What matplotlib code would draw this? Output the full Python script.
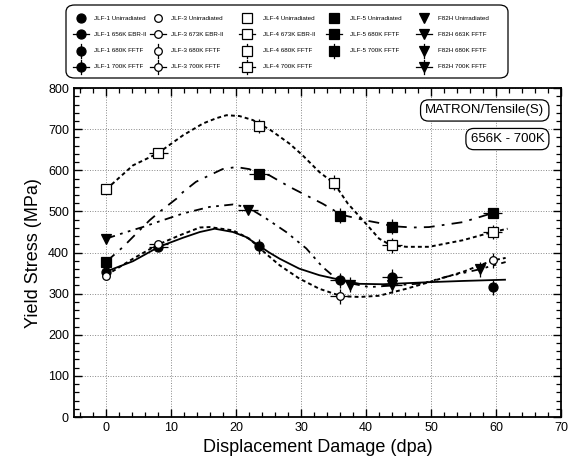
import matplotlib
matplotlib.use('Agg')
import matplotlib.pyplot as plt
from matplotlib.lines import Line2D
from matplotlib.patches import FancyBboxPatch

plt.rcParams['font.family'] = ['Liberation Sans', 'DejaVu Sans']

# measured points: (dpa, yield stress)
jlf1_unirr = ([0], [353])
jlf1_656_ebr = ([8], [413])
jlf1_680_fftf = ([23.5, 59.5], [415, 316])
jlf1_700_fftf = ([36, 44], [333, 341])

jlf3_unirr = ([0], [343])
jlf3_673_ebr = ([8], [421])
jlf3_680_fftf = ([59.5], [381])
jlf3_700_fftf = ([36], [294])

jlf4_unirr = ([0], [555])
jlf4_673_ebr = ([8], [641])
jlf4_680_fftf = ([23.5, 35], [708, 570])
jlf4_700_fftf = ([44, 59.5], [418, 450])

jlf5_unirr = ([0], [376])
jlf5_680_fftf = ([23.5, 59.5], [590, 497])
jlf5_700_fftf = ([36, 44], [490, 463])

f82h_unirr = ([0], [432])
f82h_663_fftf = ([21.8], [504])
f82h_680_fftf = ([37.5, 57.5], [322, 359])
f82h_700_fftf = ([44], [320])

# fitted trend curves
jlf1_fit_x = [0, 4.1, 8.1, 11.8, 14.4, 16.7, 19.5, 21.5, 23.5, 25.1, 26.7, 29.7, 32.8, 36.2, 39, 42.6, 49.7, 54.9, 61.4]
jlf1_fit_y = [354, 379, 414, 436, 450, 458, 450, 438, 417, 400, 385, 361, 345, 333, 324, 323, 328, 331, 334]

jlf3_fit_x = [0, 4.1, 7.9, 11.3, 14.4, 15.9, 19.5, 22, 24.6, 26.7, 29.7, 32.8, 36.2, 39, 42, 46.2, 49.7, 54.9, 59.5, 61.5]
jlf3_fit_y = [345, 385, 419, 442, 461, 462, 454, 434, 397, 369, 337, 312, 294, 292, 295, 312, 328, 353, 381, 387]

jlf4_fit_x = [0, 4.1, 7.9, 11.8, 14.9, 17, 18.5, 20.5, 22.6, 23.6, 25.1, 28.2, 30.2, 32.8, 35.1, 37.2, 40, 42, 43.8, 46.2, 49.7, 54.9, 59.5, 61.8]
jlf4_fit_y = [554, 612, 641, 685, 714, 727, 734, 732, 722, 712, 700, 665, 637, 596, 568, 519, 470, 434, 418, 414, 414, 430, 450, 458]

jlf5_fit_x = [0, 2.6, 4.1, 6.7, 8.2, 10.8, 11.8, 13.8, 15.9, 17.9, 20, 22, 23.6, 25.1, 28.2, 30.8, 33.3, 36.2, 40, 42, 44.1, 47.2, 49.7, 54.9, 59.5, 60.5]
jlf5_fit_y = [378, 414, 438, 479, 499, 531, 547, 572, 588, 603, 608, 603, 592, 588, 560, 539, 519, 492, 478, 472, 464, 461, 462, 474, 496, 499]

f82h_fit_x = [0, 3.1, 5.6, 8.2, 11.8, 15.9, 19.5, 21.8, 24.6, 27.7, 30.8, 33.3, 35.4, 37.7, 40.5, 44.1, 48.7, 52.3, 57.4, 61.5]
f82h_fit_y = [434, 450, 462, 476, 495, 511, 517, 510, 483, 450, 410, 365, 337, 325, 316, 320, 325, 341, 359, 377]

XERR = 1.5
YERR = 18

W, H = 577, 466
fig = plt.figure(figsize=(W / 100, H / 100), dpi=100)
ax = fig.add_axes([0.128, 0.105, 0.844, 0.706])

ax.plot(jlf1_fit_x, jlf1_fit_y, color='black', lw=1.3, linestyle='-')
ax.plot(jlf3_fit_x, jlf3_fit_y, color='black', lw=1.4, linestyle=(0, (2, 1.6)))
ax.plot(jlf4_fit_x, jlf4_fit_y, color='black', lw=1.4, linestyle=(0, (2, 1.6)))
ax.plot(jlf5_fit_x, jlf5_fit_y, color='black', lw=1.3, linestyle=(0, (6, 4, 1.5, 4)))
ax.plot(f82h_fit_x, f82h_fit_y, color='black', lw=1.3, linestyle=(0, (5, 3, 1.5, 3, 1.5, 3)))

legend_cols = [[], [], [], [], []]


def series(col, data, marker, filled, bars, label, ms=6.5):
    x, y = data
    xe = XERR if 'x' in bars else None
    ye = YERR if 'y' in bars else None
    ax.errorbar(x, y, xerr=xe, yerr=ye, fmt=marker, color='black',
                mfc='black' if filled else 'white', mec='black', ms=ms,
                mew=0.9, elinewidth=0.9, capsize=0, zorder=5)
    legend_cols[col].append((label, marker, filled, bars, ms))


series(0, jlf1_unirr, 'o', True, '', 'JLF-1 Unirradiated')
series(0, jlf1_656_ebr, 'o', True, 'x', 'JLF-1 656K EBR-II')
series(0, jlf1_680_fftf, 'o', True, 'y', 'JLF-1 680K FFTF')
series(0, jlf1_700_fftf, 'o', True, 'xy', 'JLF-1 700K FFTF')

series(1, jlf3_unirr, 'o', False, '', 'JLF-3 Unirradiated', 5.5)
series(1, jlf3_673_ebr, 'o', False, 'x', 'JLF-3 673K EBR-II', 5.5)
series(1, jlf3_680_fftf, 'o', False, 'y', 'JLF-3 680K FFTF', 5.5)
series(1, jlf3_700_fftf, 'o', False, 'xy', 'JLF-3 700K FFTF', 5.5)

series(2, jlf4_unirr, 's', False, '', 'JLF-4 Unirradiated')
series(2, jlf4_673_ebr, 's', False, 'x', 'JLF-4 673K EBR-II')
series(2, jlf4_680_fftf, 's', False, 'y', 'JLF-4 680K FFTF')
series(2, jlf4_700_fftf, 's', False, 'xy', 'JLF-4 700K FFTF')

series(3, jlf5_unirr, 's', True, '', 'JLF-5 Unirradiated')
series(3, jlf5_680_fftf, 's', True, 'x', 'JLF-5 680K FFTF')
series(3, jlf5_700_fftf, 's', True, 'y', 'JLF-5 700K FFTF')

series(4, f82h_unirr, 'v', True, '', 'F82H Unirradiated')
series(4, f82h_663_fftf, 'v', True, 'x', 'F82H 663K FFTF')
series(4, f82h_680_fftf, 'v', True, 'y', 'F82H 680K FFTF')
series(4, f82h_700_fftf, 'v', True, 'xy', 'F82H 700K FFTF')

# hand-drawn legend box at the top (pixel positions converted to figure fractions)
def fx(px):
    return px / W


def fy(py):
    return 1 - py / H


frame = FancyBboxPatch((fx(66), fy(78)), fx(508) - fx(66), fy(5) - fy(78),
                       boxstyle='round,pad=0,rounding_size=0.015',
                       transform=fig.transFigure, fc='white', ec='black', lw=0.9)
fig.add_artist(frame)

col_x = [81, 158, 247, 334, 424]
text_x = [94, 171, 263, 350, 438]
row_y = [18, 34, 51, 67]
for ci, entries in enumerate(legend_cols):
    for ri, (label, marker, filled, bars, ms) in enumerate(entries):
        mx, my = col_x[ci], row_y[ri]
        if 'x' in bars:
            fig.add_artist(Line2D([fx(mx - 8), fx(mx + 8)], [fy(my), fy(my)],
                                  color='black', lw=0.9, transform=fig.transFigure))
        if 'y' in bars:
            fig.add_artist(Line2D([fx(mx), fx(mx)], [fy(my - 7), fy(my + 7)],
                                  color='black', lw=0.9, transform=fig.transFigure))
        fig.add_artist(Line2D([fx(mx)], [fy(my)], marker=marker, ms=ms, mew=0.9,
                              mfc='black' if filled else 'white', mec='black',
                              linestyle='none', transform=fig.transFigure))
        fig.text(fx(text_x[ci]), fy(my), label, fontsize=4.5, va='center', ha='left')

ax.set_xlim(-5, 70)
ax.set_ylim(0, 800)
ax.set_xticks(range(0, 71, 10))
ax.set_xticks(range(-4, 71, 2), minor=True)
ax.set_yticks(range(0, 801, 100))
ax.set_yticks(range(0, 801, 20), minor=True)
ax.tick_params(which='both', direction='in', top=True, right=True, labelsize=9)
ax.tick_params(which='major', length=6, width=1)
ax.tick_params(which='minor', length=3.5, width=0.9)
ax.grid(True, which='major', linestyle=':', color='#888888', linewidth=0.7)
for sp in ax.spines.values():
    sp.set_linewidth(1.3)

ax.set_xlabel('Displacement Damage (dpa)', fontsize=13)
ax.set_ylabel('Yield Stress (MPa)', fontsize=13)

box = dict(boxstyle='round,pad=0.35,rounding_size=0.6', fc='white', ec='black', lw=0.9)
ax.text(0.966, 0.932, 'MATRON/Tensile(S)', transform=ax.transAxes, ha='right',
        va='center', fontsize=9.5, bbox=box)
ax.text(0.966, 0.845, '656K - 700K', transform=ax.transAxes, ha='right',
        va='center', fontsize=9.5, bbox=box)

plt.savefig('out.png', dpi=100)
